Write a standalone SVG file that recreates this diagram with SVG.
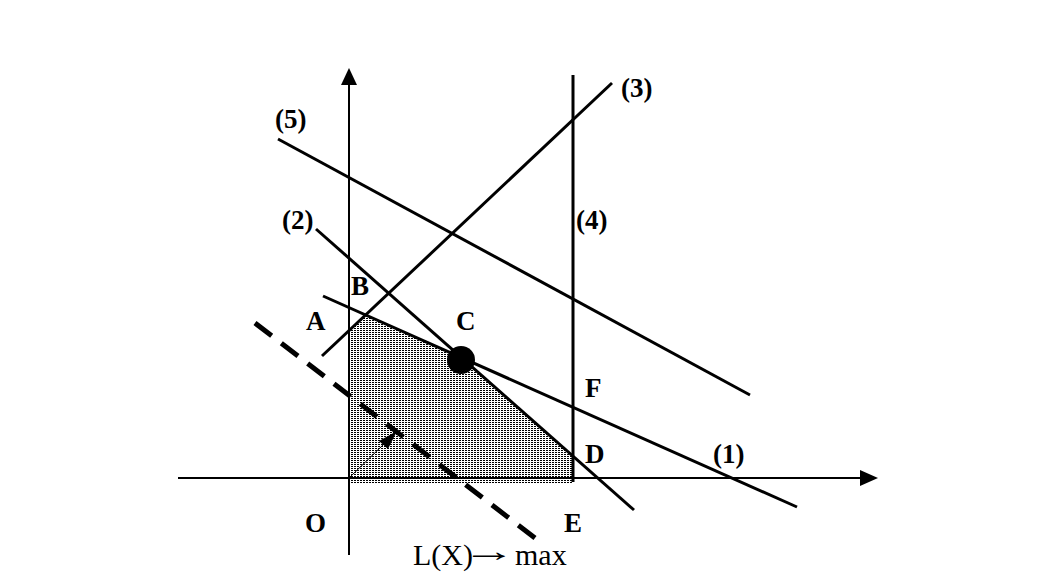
<svg xmlns="http://www.w3.org/2000/svg" width="1063" height="577" viewBox="0 0 1063 577">
<defs>
<pattern id="dots" patternUnits="userSpaceOnUse" width="3" height="2">
<rect x="0" y="0" width="2" height="1" fill="#000"/>
</pattern>
</defs>
<style>
.ln{stroke:#000;stroke-width:3;fill:none}
.ax{stroke:#000;stroke-width:2;fill:none}
.lb{font-family:"Liberation Serif",serif;font-weight:bold;font-size:27px;fill:#000}
.obj{font-family:"Liberation Serif",serif;font-size:30px;fill:#000}
</style>
<rect width="1063" height="577" fill="#fff"/>
<g id="region">
<polygon points="349,483 349,331 366,315 461,358 573,456 573,483" fill="url(#dots)"/>
</g>
<g id="axes">
<line class="ax" x1="349" y1="555" x2="349" y2="82"/>
<polygon points="349,68 341,85 357,85" fill="#000"/>
<line class="ax" x1="178" y1="478" x2="862" y2="478"/>
<polygon points="878,478 860,470 860,486" fill="#000"/>
</g>
<g id="connectors">
<line id="line1" class="ln" x1="323" y1="296" x2="797" y2="507"/>
<line id="line2" class="ln" x1="316" y1="229" x2="634" y2="510"/>
<line id="line3" class="ln" x1="322" y1="356" x2="612" y2="83"/>
<line id="line4" class="ln" x1="573" y1="75" x2="573" y2="482"/>
<line id="line5" class="ln" x1="278" y1="139" x2="750" y2="395"/>
<line id="objective" x1="255" y1="323" x2="535" y2="538" stroke="#000" stroke-width="5" stroke-dasharray="21,12.2"/>
<line id="gradient" x1="349" y1="478" x2="386" y2="442" stroke="#000" stroke-width="1"/>
<polygon points="397,431 379,441 388,449" fill="#000"/>
</g>
<g id="optimum">
<circle cx="461" cy="360" r="14" fill="#000"/>
</g>
<g id="labels">
<text class="lb" x="275" y="128">(5)</text>
<text class="lb" x="621" y="97">(3)</text>
<text class="lb" x="282" y="229">(2)</text>
<text class="lb" x="576" y="229">(4)</text>
<text class="lb" x="351" y="295">B</text>
<text class="lb" x="306" y="330">A</text>
<text class="lb" x="456" y="330">C</text>
<text class="lb" x="585" y="397">F</text>
<text class="lb" x="585" y="463">D</text>
<text class="lb" x="713" y="463">(1)</text>
<text class="lb" x="305" y="532">O</text>
<text class="lb" x="564" y="532">E</text>
<g id="objective-label">
<text class="obj" x="413" y="565">L(X)</text>
<text class="obj" transform="translate(462,0) scale(1.8,1)" x="0" y="561">→</text>
<text class="obj" x="515" y="565">max</text>
</g>
</g>
</svg>
